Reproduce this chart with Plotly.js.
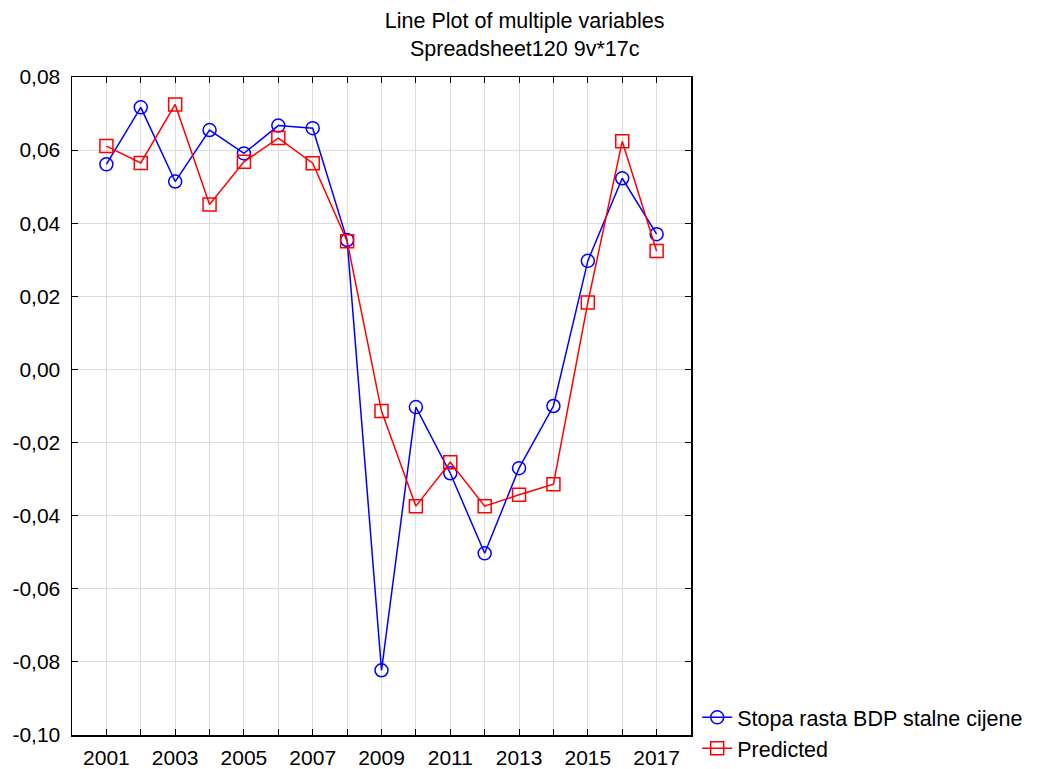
<!DOCTYPE html>
<html>
<head>
<meta charset="utf-8">
<script src="https://cdn.plot.ly/plotly-3.0.1.min.js"></script>
<style>html,body{margin:0;padding:0;background:#fff;}#chart{width:1039px;height:769px;}</style>
</head>
<body>
<div id="chart"></div>
<script>
const years = [2001,2002,2003,2004,2005,2006,2007,2008,2009,2010,2011,2012,2013,2014,2015,2016,2017];
const stopaRasta = [0.0561,0.0717,0.0514,0.0655,0.0591,0.0667,0.0660,0.0354,-0.0823,-0.0103,-0.0284,-0.0503,-0.0270,-0.0100,0.0297,0.0523,0.0370];
const predicted = [0.0611,0.0565,0.0725,0.0451,0.0568,0.0633,0.0564,0.0351,-0.0114,-0.0374,-0.0254,-0.0374,-0.0343,-0.0314,0.0183,0.0624,0.0324];
const xTickVals = years;
const xTickText = ['2001','','2003','','2005','','2007','','2009','','2011','','2013','','2015','','2017'];
const yTickVals = [-0.10,-0.08,-0.06,-0.04,-0.02,0,0.02,0.04,0.06,0.08];
const yTickText = ['-0,10','-0,08','-0,06','-0,04','-0,02','0,00','0,02','0,04','0,06','0,08'];

const fam = 'Liberation Sans, Arial, sans-serif';
const tickFont = {family: fam, size: 21, color: '#000'};
const bigFont = {family: fam, size: 21.5, color: '#000'};

const traces = [
  {x: years, y: stopaRasta, name: 'Stopa rasta BDP stalne cijene', type: 'scatter', mode: 'lines+markers',
   line: {color: '#0000ff', width: 1.5},
   marker: {symbol: 'circle-open', size: 13, color: '#0000ff', line: {width: 1.5, color: '#0000ff'}}},
  {x: years, y: predicted, name: 'Predicted', type: 'scatter', mode: 'lines+markers',
   line: {color: '#ff0000', width: 1.5},
   marker: {symbol: 'square-open', size: 13, color: '#ff0000', line: {width: 1.5, color: '#ff0000'}}}
];

const layout = {
  width: 1039, height: 769,
  paper_bgcolor: '#fff', plot_bgcolor: '#fff',
  font: tickFont,
  margin: {l: 72, r: 348, t: 77, b: 34, pad: 0, autoexpand: false},
  title: {text: 'Line Plot of multiple variables<br>Spreadsheet120 9v*17c', x: 0.505, xref: 'container', xanchor: 'center',
          y: 0.963, yref: 'container', yanchor: 'middle', font: bigFont},
  xaxis: {range: [2000, 2018], tickvals: xTickVals, ticktext: xTickText, showgrid: true, gridcolor: '#dcdcdc', gridwidth: 1,
          zeroline: false, showline: true, linecolor: '#000', linewidth: 1.5, mirror: 'ticks', ticks: 'inside', ticklen: 6,
          tickcolor: '#000', tickfont: tickFont, ticklabelstandoff: 3, automargin: false},
  yaxis: {range: [-0.10, 0.08], tickvals: yTickVals, ticktext: yTickText, showgrid: true, gridcolor: '#dcdcdc', gridwidth: 1,
          zeroline: false, showline: true, linecolor: '#000', linewidth: 1.5, mirror: 'ticks', ticks: 'inside', ticklen: 6,
          tickcolor: '#000', tickfont: tickFont, ticklabelstandoff: 6, automargin: false},
  showlegend: true,
  legend: {x: 1.01, xanchor: 'left', y: 0.058, yanchor: 'top', bgcolor: 'rgba(0,0,0,0)', font: bigFont,
           tracegroupgap: 0, itemwidth: 30}
};

Plotly.newPlot('chart', traces, layout, {displayModeBar: false, staticPlot: true});
</script>
</body>
</html>
